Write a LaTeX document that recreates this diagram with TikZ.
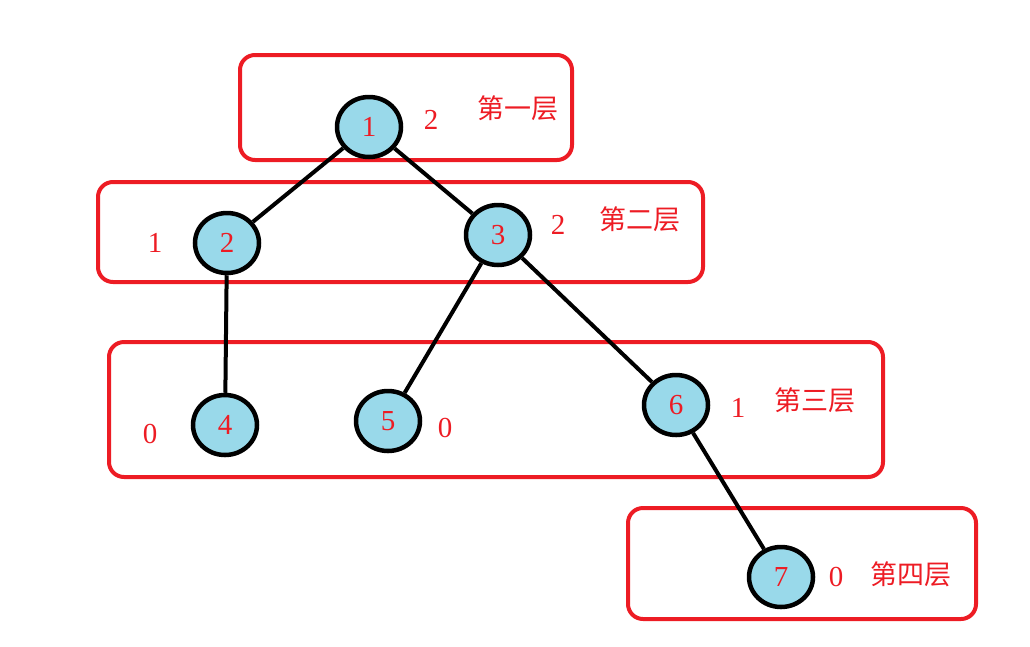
\documentclass[tikz,border=0pt]{standalone}
\usepackage{fontspec}
\setmainfont{Liberation Serif}
\newfontfamily\cjk{Noto Sans CJK SC}
\usepackage{xcolor}
\usetikzlibrary{shapes.geometric}
\definecolor{boxred}{HTML}{ED1C24}
\definecolor{nodeblue}{HTML}{99D9EA}

\begin{document}
\begin{tikzpicture}[x=1pt, y=-1pt,
    vert/.style={ellipse, draw, line width=4.5pt, fill=nodeblue, minimum width=64pt, minimum height=60pt,
        inner sep=0pt, text=boxred, font=\fontsize{29}{32}\selectfont},
    level/.style={draw=boxred, line width=4pt, rounded corners=15pt},
    num/.style={text=boxred, font=\fontsize{29}{32}\selectfont},
    layername/.style={text=boxred, font=\cjk\fontsize{27}{30}\selectfont}]
            \useasboundingbox (0,0) rectangle (1030,646);

            % layer boxes
            \draw[level] (240,55) rectangle (572,160);
            \draw[level] (98,182) rectangle (703,282);
            \draw[level] (109,342) rectangle (883,477);
            \draw[level] (628,508) rectangle (976,619);

            % tree nodes
            \foreach \n/\x/\y in {1/369/127, 2/227/243, 3/498/235, 4/225/425, 5/388/421, 6/676/405, 7/781/577} {
                \node (v\n) at (\x, \y) [vert] {\raisebox{-3pt}{\n}};
            }

            \draw[line width=4pt] (v1) -- (v2);
            \draw[line width=4pt] (v1) -- (v3);
            \draw[line width=4pt] (v2) -- (v4);
            \draw[line width=4pt] (v3) -- (v5);
            \draw[line width=4pt] (v3) -- (v6);
            \draw[line width=4pt] (v6) -- (v7);

            % heights
            \foreach \n/\x/\y/\h in {1/431/120/2, 2/155/243/1, 3/558/225/2, 4/150/434/0, 5/445/428/0, 6/738/408/1, 7/836/577/0} {
                \node (h\n) at (\x, \y) [num] {\h};
            }

            % layer names
            \node (l1) at (518,108) [layername] {第一层};
            \node (l2) at (640,219) [layername] {第二层};
            \node (l3) at (815,400) [layername] {第三层};
            \node (l4) at (911,574) [layername] {第四层};
        \end{tikzpicture}
\end{document}
